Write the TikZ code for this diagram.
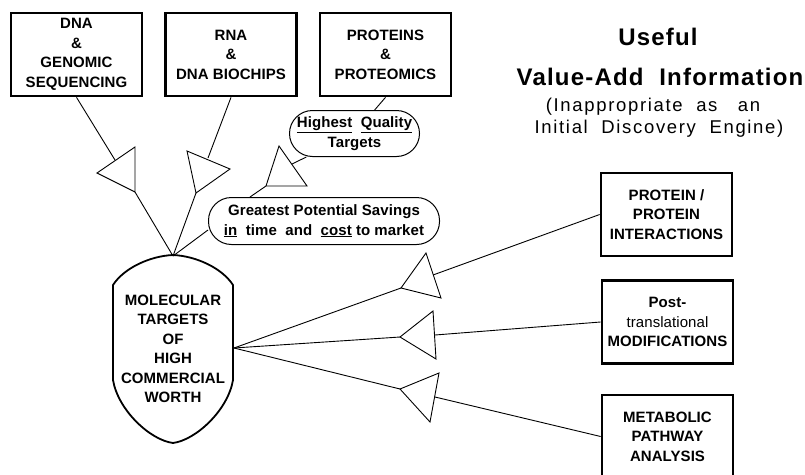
\documentclass[tikz,border=0pt]{standalone}
\usepackage{fontspec}
\setmainfont{Liberation Sans}
\newfontfamily\diafont[LetterSpace=0.5]{Liberation Sans}
\newfontfamily\headfont[LetterSpace=5]{Liberation Sans}
\newfontfamily\notefont[LetterSpace=9]{Liberation Sans}
\usetikzlibrary{positioning}

\tikzset{
  boxtxt/.style={align=center, inner sep=0pt, font=\fontsize{15}{19.5}\diafont\bfseries},
  srcbox/.style={boxtxt, draw, line width=2.7pt, minimum width=131pt, minimum height=83pt},
  bubble/.style={boxtxt, draw, line width=1pt, rounded corners=23pt},
  link/.style={line width=0.9pt},
  valve/.style={line width=0.9pt, line join=miter},
}

\begin{document}
\begin{tikzpicture}[x=1pt, y=-1pt]
  \useasboundingbox (0,0) rectangle (805,474);
  % Sources en haut
  \node[srcbox] (dna) at (76.5,54.5) {DNA\\\&\\GENOMIC\\SEQUENCING};
  \node[srcbox] (rna) at (231,54.5) {RNA\\\&\\DNA BIOCHIPS};
  \node[srcbox] (prot) at (385.5,54.5) {PROTEINS\\\&\\PROTEOMICS};
  % Titre a droite
  \node[anchor=base, font=\fontsize{24}{28}\headfont\bfseries] (useful) at (658,45) {Useful};
  \node[anchor=base, font=\fontsize{24}{28}\headfont\bfseries] (valueadd) at (660,85) {Value-Add\ \ Information};
  \node[anchor=base, font=\fontsize{18.5}{22}\notefont] (inappr) at (653,111) {(Inappropriate\ \ as\ \ \ an};
  \node[anchor=base, font=\fontsize{18.5}{22}\notefont] (engine) at (659,133) {Initial\ \ Discovery\ \ Engine)};
  % Bulles
  \node[bubble, minimum width=130pt, minimum height=46pt] (hq) at (354.5,133.5)
    {\underline{Highest}\ \ \underline{Quality}\\Targets};
  \node[bubble, minimum width=231pt, minimum height=47pt] (gs) at (324,221)
    {Greatest Potential Savings\\\underline{in}\ \ time\ \ and\ \ \underline{cost}\ to market};
  \coordinate (gsin) at ([xshift=42pt]gs.north west);
  \coordinate (gsout) at ([yshift=-9pt]gs.west);
  % Cibles moleculaires (ogive)
  \node[boxtxt] (mol) at (173,349) {MOLECULAR\\TARGETS\\OF\\HIGH\\COMMERCIAL\\WORTH};
  \draw[line width=1.8pt] (173,255) .. controls (196,256) and (222,268) .. (233,285)
    -- (233,380) .. controls (228,410) and (196,440) .. (173,443)
    .. controls (150,440) and (118,410) .. (113,380)
    -- (113,285) .. controls (124,268) and (150,256) .. cycle;
  \coordinate (moltop) at (173,256);
  \coordinate (molR) at (234,348);
  % Boites a droite
  \node[srcbox] (ppi) at (666.5,214.5) {PROTEIN /\\PROTEIN\\INTERACTIONS};
  \node[srcbox] (ptm) at (667.5,322) {Post-\\{\mdseries translational}\\MODIFICATIONS};
  \node[srcbox] (meta) at (667.5,436.5) {METABOLIC\\PATHWAY\\ANALYSIS};
  % Valves de gauche
  \coordinate (v1a) at (97,173);  \coordinate (v1b) at (135,147); \coordinate (v1c) at (135,192);
  \coordinate (v1in) at (115,160);
  \coordinate (v2a) at (187,151); \coordinate (v2b) at (230,169); \coordinate (v2c) at (196,193);
  \coordinate (v2in) at (208,158);
  \coordinate (v3a) at (279,146); \coordinate (v3b) at (307,186); \coordinate (v3c) at (266,186);
  \coordinate (v3in) at (292,164);
  \draw[valve] (v1a) -- (v1b) -- (v1c) -- cycle;
  \draw[valve] (v2a) -- (v2b) -- (v2c) -- cycle;
  \draw[valve] (v3a) -- (v3b) -- (v3c) -- cycle;
  \draw[link] (dna.south) -- (v1in);
  \draw[link] (v1c) -- (moltop);
  \draw[link] (rna.south) -- (v2in);
  \draw[link] (v2c) -- (moltop);
  \draw[link] (prot.south) -- (hq);
  \draw[link] (hq) -- (v3in);
  \draw[link] (v3c) -- (gsin);
  \draw[link] (gsout) -- (moltop);
  % Valves de droite
  \coordinate (vAa) at (401,288); \coordinate (vAb) at (426,253); \coordinate (vAc) at (441,298);
  \coordinate (vAin) at (433,275);
  \coordinate (vBa) at (400,337); \coordinate (vBb) at (433,311); \coordinate (vBc) at (436,359);
  \coordinate (vBin) at (435,335);
  \coordinate (vCa) at (400,389); \coordinate (vCb) at (439,373); \coordinate (vCc) at (430,422);
  \coordinate (vCin) at (435,397);
  \draw[valve] (vAa) -- (vAb) -- (vAc) -- cycle;
  \draw[valve] (vBa) -- (vBb) -- (vBc) -- cycle;
  \draw[valve] (vCa) -- (vCb) -- (vCc) -- cycle;
  \draw[link] (molR) -- (vAa);
  \draw[link] (molR) -- (vBa);
  \draw[link] (molR) -- (vCa);
  \draw[link] (ppi.west) -- (vAin);
  \draw[link] (ptm.west) -- (vBin);
  \draw[link] (meta.west) -- (vCin);
\end{tikzpicture}
\end{document}
